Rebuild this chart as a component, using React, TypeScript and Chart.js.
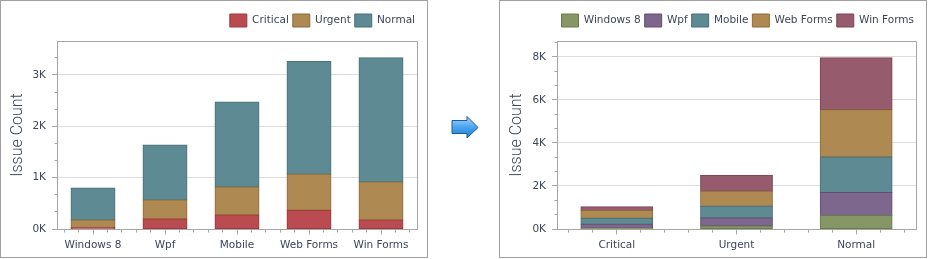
import React, { useEffect, useRef } from 'react';
import { Chart, registerables } from 'chart.js';

Chart.register(...registerables);

// ---------- data ----------
const platforms = ['Windows 8', 'Wpf', 'Mobile', 'Web Forms', 'Win Forms'];
const priorities = ['Critical', 'Urgent', 'Normal'];
const criticalValues = [30, 195, 273, 364, 175];
const urgentValues = [145, 370, 545, 700, 740];
const normalValues = [625, 1070, 1655, 2195, 2420];
const leftYTicks = [0, 1000, 2000, 3000];
const rightYTicks = [0, 2000, 4000, 6000, 8000];
const leftYMax = 3660;
const rightYMax = 8740;

// ---------- styles ----------
const priorityFill = ['#B94B51', '#AE8A52', '#5E8A93'];
const priorityBorder = ['#9A3A40', '#8C6B3A', '#4A6F77'];
const platformFill = ['#869664', '#7D678C', '#5E8A93', '#AE8A52', '#965B6D'];
const platformBorder = ['#6A7A4C', '#624F70', '#4A6F77', '#8C6B3A', '#7A4556'];
const AXIS = '#a6a6a6';
const GRID = '#dddddd';
const TEXT = '#3c4659';
const FONT = 'DejaVu Sans';
const FONT_SIZE = 10.5;

const decor = {
  id: 'decor',
  beforeLayout(chart: any) {
    const lg = chart.legend;
    if (lg && !lg.__patched) {
      const orig = lg.fit.bind(lg);
      lg.fit = () => {
        orig();
        lg.height = 31;
      };
      lg.__patched = true;
    }
  },
  afterLayout(chart: any) {
    if (chart.legend) chart.legend.right += 2;
  },
  afterDraw(chart: any) {
    const { ctx, chartArea } = chart;
    const { left, right, top, bottom } = chartArea;
    const a = (v: number) => Math.round(v - 0.5) + 0.5;
    const xs = chart.scales.x;
    const ys = chart.scales.y;
    ctx.save();
    ctx.strokeStyle = AXIS;
    ctx.lineWidth = 1;
    ctx.beginPath();
    // frame (top + right)
    ctx.moveTo(a(left), a(top));
    ctx.lineTo(a(right), a(top));
    ctx.lineTo(a(right), a(bottom));
    // y minor ticks
    const majors: number[] = ys.ticks.map((t: any) => t.value);
    const step = majors[1] - majors[0];
    for (let v = 0; v <= ys.max; v += step / 3) {
      const isMajor = Math.abs(v / step - Math.round(v / step)) < 1e-6;
      if (isMajor) continue;
      const py = a(ys.getPixelForValue(v));
      ctx.moveTo(a(left) - 3, py);
      ctx.lineTo(a(left), py);
    }
    // x ticks (5 sub-divisions per category, major at center)
    const n = xs.ticks.length;
    const w = (right - left) / n;
    const c0 = xs.getPixelForValue(0);
    for (let k = -10; k < n * 5 + 10; k++) {
      const px = c0 + (k * w) / 5;
      if (px <= left + 1 || px >= right - 1) continue;
      const len = k % 5 === 0 ? 5 : 3;
      ctx.moveTo(a(px), a(bottom));
      ctx.lineTo(a(px), a(bottom) + len);
    }
    ctx.stroke();
    ctx.restore();
  },
};

function makeConfig(
  labels: string[],
  datasets: any[],
  yTicks: number[],
  yMax: number,
  yWidth: number,
  barPct: number
): any {
  return {
    type: 'bar',
    data: { labels, datasets },
    plugins: [decor],
    options: {
      animation: false,
      responsive: false,
      devicePixelRatio: 1,
      layout: { padding: { top: 9, right: 10, left: 0, bottom: 0 } },
      datasets: { bar: { barPercentage: barPct, categoryPercentage: 1 } },
      plugins: {
        tooltip: { enabled: false },
        legend: {
          position: 'top',
          align: 'end',
          labels: {
            boxWidth: 17,
            boxHeight: 13,
            padding: 4,
            color: TEXT,
            font: { family: FONT, size: FONT_SIZE },
          },
        },
      },
      scales: {
        x: {
          stacked: true,
          grid: { display: false, drawTicks: false },
          border: { color: AXIS },
          ticks: { padding: 10, color: TEXT, font: { family: FONT, size: FONT_SIZE }, maxRotation: 0 },
          afterFit: (s: any) => {
            s.height = 28;
          },
        },
        y: {
          stacked: true,
          min: 0,
          max: yMax,
          afterBuildTicks: (s: any) => {
            s.ticks = yTicks.map((v) => ({ value: v }));
          },
          afterFit: (s: any) => {
            s.width = yWidth;
          },
          grid: { color: GRID, tickColor: AXIS, tickLength: 5, drawTicks: true },
          border: { color: AXIS },
          ticks: {
            padding: 6,
            color: TEXT,
            font: { family: FONT, size: FONT_SIZE },
            callback: (v: any) => Number(v) / 1000 + 'K',
          },
          title: {
            display: true,
            text: 'Issue Count',
            color: TEXT,
            font: { family: 'Roboto', size: 16, weight: 300 },
            padding: { top: 7, bottom: 0 },
          },
        },
      },
    },
  };
}

function leftConfig() {
  const series = [criticalValues, urgentValues, normalValues];
  const datasets = priorities.map((name, i) => ({
    label: name,
    data: series[i],
    backgroundColor: priorityFill[i],
    borderColor: priorityBorder[i],
    borderWidth: 1,
    borderSkipped: false,
    inflateAmount: 0.5,
  }));
  return makeConfig(platforms, datasets, leftYTicks, leftYMax, 56, 0.61);
}

function rightConfig() {
  const datasets = platforms.map((name, i) => ({
    label: name,
    data: [criticalValues[i], urgentValues[i], normalValues[i]],
    backgroundColor: platformFill[i],
    borderColor: platformBorder[i],
    borderWidth: 1,
    borderSkipped: false,
    inflateAmount: 0.5,
  }));
  return makeConfig(priorities, datasets, rightYTicks, rightYMax, 57, 0.6);
}

function Panel({ left, build }: { left: number; build: () => any }) {
  const ref = useRef<HTMLCanvasElement | null>(null);
  useEffect(() => {
    const chart = new Chart(ref.current as HTMLCanvasElement, build());
    return () => chart.destroy();
  }, []);
  return (
    <div
      style={{
        position: 'absolute',
        left,
        top: 0,
        width: 428,
        height: 258,
        border: '1px solid #a0a0a0',
        boxSizing: 'border-box',
        background: '#fff',
      }}
    >
      <canvas ref={ref} width={426} height={256} style={{ display: 'block', width: 426, height: 256 }} />
    </div>
  );
}

export default function App() {
  return (
    <div style={{ position: 'fixed', left: 0, top: 0, width: 928, height: 259, background: '#fff', overflow: 'hidden' }}>
      <Panel left={0} build={leftConfig} />
      <svg style={{ position: 'absolute', left: 440, top: 105, width: 50, height: 45 }} viewBox="440 105 50 45">
        <defs>
          <linearGradient id="arrowGrad" x1="0" y1="0" x2="0" y2="1">
            <stop offset="0" stopColor="#a9d6fb" />
            <stop offset="0.5" stopColor="#4aa3ef" />
            <stop offset="1" stopColor="#1f7fd6" />
          </linearGradient>
        </defs>
        <polygon
          points="452,120.5 467,120.5 467,116.5 478,127.5 467,138 467,133.5 452,133.5"
          fill="url(#arrowGrad)"
          stroke="#1d5c99"
          strokeWidth="1"
        />
      </svg>
      <Panel left={499} build={rightConfig} />
    </div>
  );
}
